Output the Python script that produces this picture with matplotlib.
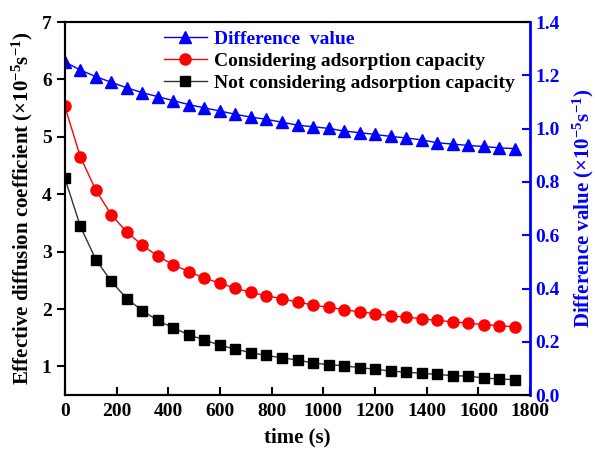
import matplotlib
matplotlib.use('Agg')
import matplotlib.pyplot as plt
import numpy as np

plt.rcParams['font.family'] = ['Liberation Serif', 'DejaVu Serif']
plt.rcParams['font.weight'] = 'bold'
plt.rcParams['mathtext.fontset'] = 'custom'
plt.rcParams['mathtext.rm'] = 'Liberation Serif:bold'
plt.rcParams['mathtext.it'] = 'Liberation Serif:bold'
plt.rcParams['mathtext.bf'] = 'Liberation Serif:bold'

# sampling times (s)
time_s = np.arange(0, 1800, 60)

# effective diffusion coefficient, x1e-5 s^-1
considering = [5.53, 4.65, 4.07, 3.64, 3.34, 3.11, 2.92, 2.77, 2.65, 2.54,
               2.45, 2.36, 2.29, 2.23, 2.18, 2.12, 2.07, 2.03, 1.99, 1.95,
               1.92, 1.88, 1.86, 1.83, 1.80, 1.78, 1.75, 1.73, 1.71, 1.69]
not_considering = [4.28, 3.44, 2.86, 2.48, 2.18, 1.97, 1.80, 1.67, 1.55, 1.46,
                   1.37, 1.30, 1.24, 1.19, 1.15, 1.11, 1.06, 1.03, 1.01, 0.98,
                   0.95, 0.92, 0.90, 0.88, 0.86, 0.84, 0.83, 0.80, 0.78, 0.77]
difference = [1.250, 1.220, 1.195, 1.174, 1.153, 1.135, 1.120, 1.105, 1.090, 1.078,
              1.066, 1.054, 1.043, 1.035, 1.024, 1.013, 1.007, 1.001, 0.991, 0.985,
              0.978, 0.971, 0.965, 0.958, 0.947, 0.942, 0.937, 0.933, 0.928, 0.925]

x_ticks = list(range(0, 1801, 200))
left_ticks = [1, 2, 3, 4, 5, 6, 7]
right_ticks = [0.0, 0.2, 0.4, 0.6, 0.8, 1.0, 1.2, 1.4]

fig = plt.figure(figsize=(5.95, 4.5), dpi=100)
ax = fig.add_axes([0.109, 0.122, 0.782, 0.829])
ax2 = ax.twinx()

l_red, = ax.plot(time_s, considering, color='red', lw=1, marker='o', ms=8,
                 label='Considering adsorption capacity')
l_blk, = ax.plot(time_s, not_considering, color='#333333', lw=1, marker='s', ms=7,
                 mfc='black', mec='black', label='Not considering adsorption capacity')
l_blu, = ax2.plot(time_s, difference, color='blue', lw=1, marker='^', ms=9,
                  label='Difference  value')

ax.set_xlim(0, 1800)
ax.set_ylim(0.5, 7)
ax2.set_ylim(0, 1.4)
ax.set_xticks(x_ticks)
ax.set_yticks(left_ticks)
ax2.set_yticks(right_ticks)
ax2.set_yticklabels([f'{v:.1f}' for v in right_ticks])

ax.tick_params(axis='x', direction='in', length=6, width=1.5, labelsize=14, pad=6)
ax.tick_params(axis='y', direction='out', length=6, width=1.5, labelsize=14)
ax2.tick_params(axis='y', direction='in', length=6, width=1.5, labelsize=14,
                colors='blue')

for s in ['left', 'bottom', 'top']:
    ax.spines[s].set_linewidth(1.5)
    ax2.spines[s].set_linewidth(1.5)
ax2.spines['right'].set_linewidth(2)
ax2.spines['right'].set_color('blue')
ax.spines['right'].set_visible(False)

ax.set_xlabel('time (s)', fontsize=15, fontweight='bold', labelpad=5)
ax.set_ylabel('Effective diffusion coefficient (×10$^{-5}$s$^{-1}$)',
              fontsize=15, fontweight='bold', labelpad=5)
ax2.set_ylabel('Difference value (×10$^{-5}$s$^{-1}$)', fontsize=15,
               fontweight='bold', color='blue', labelpad=8)

leg = ax.legend(handles=[l_blu, l_red, l_blk], loc='upper left',
                bbox_to_anchor=(0.175, 1.025), frameon=False, fontsize=14,
                handlelength=2.2, handletextpad=0.4, labelspacing=0.23)
leg.get_texts()[0].set_color('blue')

fig.savefig('out.png', dpi=100)
plt.close(fig)
